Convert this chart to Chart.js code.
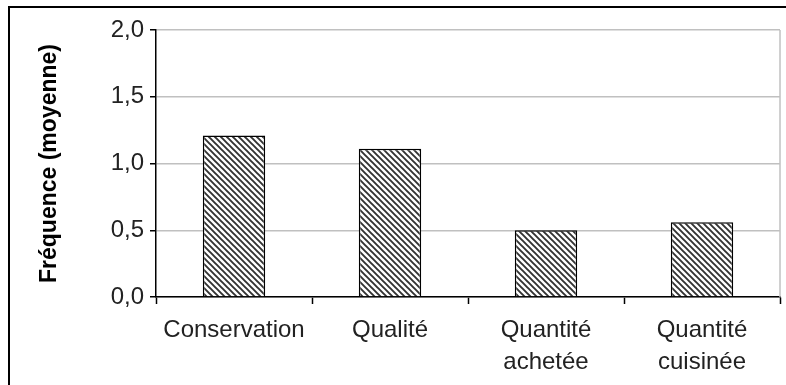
<!DOCTYPE html>
<html>
<head>
<meta charset="utf-8">
<script src="https://cdn.jsdelivr.net/npm/chart.js@4/dist/chart.umd.min.js"></script>
<style>
  body { margin: 0; background: #fff; }
  #wrap { position: relative; width: 786px; height: 385px; overflow: hidden; }
  #frame { position: absolute; left: 8px; top: 6px; width: 900px; height: 500px; border: 2px solid #000; box-sizing: border-box; }
  canvas { position: absolute; left: 0; top: 0; }
</style>
</head>
<body>
<div id="wrap">
  <div id="frame"></div>
  <canvas id="chart" width="786" height="385"></canvas>
</div>
<script>
// data
const categories = ['Conservation', 'Qualité', ['Quantité', 'achetée'], ['Quantité', 'cuisinée']];
const frequence = [1.21, 1.11, 0.50, 0.56];
const yTitle = 'Fréquence (moyenne)';

// diagonal hatch like the excel fill
function hatch() {
    const c = document.createElement('canvas');
    c.width = 6; c.height = 6;
    const g = c.getContext('2d');
    g.fillStyle = '#fff';
    g.fillRect(0, 0, 6, 6);
    g.strokeStyle = '#333';
    g.lineWidth = 1.9;
    g.beginPath();
    g.moveTo(-1, -1); g.lineTo(7, 7);
    g.moveTo(-4, 2); g.lineTo(2, 8);
    g.moveTo(2, -4); g.lineTo(8, 2);
    g.stroke();
    return g.createPattern(c, 'repeat');
}

// gray line on the right edge of plot area
const rightEdge = {
    id: 'rightEdge',
    afterDraw(chart) {
        const a = chart.chartArea, ctx = chart.ctx;
        ctx.save();
        ctx.strokeStyle = '#c0c0c0';
        ctx.lineWidth = 1.5;
        ctx.beginPath();
        ctx.moveTo(a.right, a.top);
        ctx.lineTo(a.right, a.bottom);
        ctx.stroke();
        ctx.restore();
    }
};

const ctx = document.getElementById('chart').getContext('2d');
new Chart(ctx, {
    type: 'bar',
    data: {
        labels: categories,
        datasets: [{
            data: frequence,
            backgroundColor: hatch(),
            borderColor: '#000',
            borderWidth: 1.5,
            barPercentage: 0.4,
            categoryPercentage: 1
        }]
    },
    options: {
        responsive: false,
        animation: false,
        layout: { padding: { left: 10, top: 30, right: 6, bottom: 0 } },
        plugins: { legend: { display: false }, tooltip: { enabled: false } },
        scales: {
            x: {
                grid: { display: true, drawOnChartArea: false, offset: true, tickLength: 7, tickColor: '#000', tickWidth: 1.5 },
                border: { color: '#000', width: 1.5 },
                ticks: {
                    color: '#222',
                    font: { family: 'Liberation Sans, Arial', size: 24, lineHeight: 1.35 },
                    padding: 10,
                    maxRotation: 0
                },
                afterFit: (s) => { s.height = 88; }
            },
            y: {
                min: 0, max: 2,
                ticks: {
                    stepSize: 0.5,
                    color: '#222',
                    padding: 6,
                    font: { family: 'Liberation Sans, Arial', size: 24 },
                    callback: (v) => v.toFixed(1).replace('.', ',')
                },
                grid: { color: '#c0c0c0', lineWidth: 1.5, tickLength: 6, tickColor: '#000', tickWidth: 1.5 },
                border: { color: '#000', width: 1.5 },
                title: {
                    display: true,
                    text: yTitle,
                    color: '#000',
                    font: { family: 'Liberation Sans, Arial', size: 23, weight: 'bold' },
                    padding: { top: 26, bottom: 0 }
                },
                afterFit: (s) => { s.width = 146; }
            }
        }
    },
    plugins: [rightEdge]
});
</script>
</body>
</html>
